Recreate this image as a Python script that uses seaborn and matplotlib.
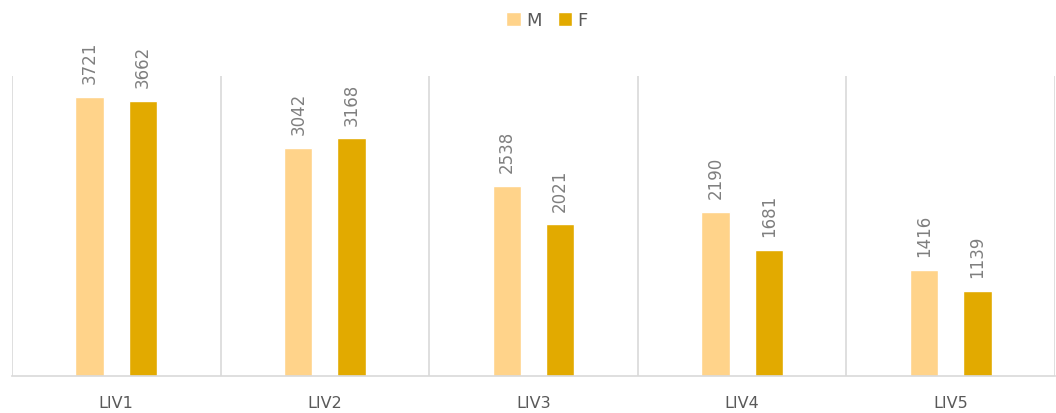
import numpy as np
import pandas as pd
import seaborn as sns
import matplotlib.pyplot as plt

categories = ["LIV1", "LIV2", "LIV3", "LIV4", "LIV5"]
m_values = [3721, 3042, 2538, 2190, 1416]
f_values = [3662, 3168, 2021, 1681, 1139]
series = ["M", "F"]

df = pd.DataFrame({
    "cat": categories * 2,
    "val": m_values + f_values,
    "sex": ["M"] * len(categories) + ["F"] * len(categories),
})

sns.set_style("white")
plt.rcParams['font.family'] = ['DejaVu Sans']

fig = plt.figure(figsize=(10.56, 4.14), dpi=100)
ax = fig.add_axes([12 / 1056, 37 / 414, 1043 / 1056, 300 / 414])

sns.barplot(data=df, x="cat", y="val", hue="sex", hue_order=series,
            palette=["#FFD38A", "#E2AA00"], width=0.512, gap=0.465,
            saturation=1, ax=ax, legend=True)

for cont in ax.containers:
    ax.bar_label(cont, rotation=90, padding=10, color="#7F7F7F", fontsize=12)

ax.set_ylim(0, 4000)
ax.set_xlim(-0.5, 4.5)
ax.set_yticks([])
ax.set_xticks(np.arange(-0.5, 5, 1), minor=True)
ax.grid(which="minor", axis="x", color="#D9D9D9", linewidth=1.2)
ax.tick_params(axis="x", which="both", length=0, pad=14, labelsize=11.5, labelcolor="#595959")
ax.set_xlabel("")
ax.set_ylabel("")
for s in ["top", "left", "right"]:
    ax.spines[s].set_visible(False)
ax.spines["bottom"].set_color("#D9D9D9")
ax.spines["bottom"].set_linewidth(1.2)

ax.legend(loc="upper center", bbox_to_anchor=(0.513, 1.27), ncol=2, frameon=False,
          fontsize=13, labelcolor="#595959", handlelength=0.8, handleheight=0.8,
          handletextpad=0.3, columnspacing=0.9)

fig.savefig("out.png", dpi=100)
